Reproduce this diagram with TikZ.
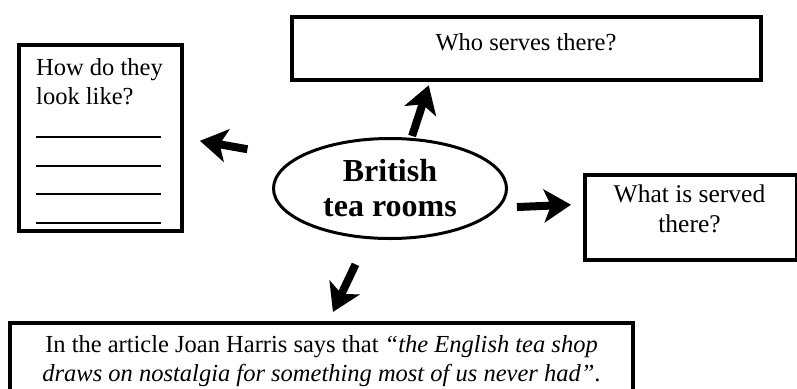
\documentclass[tikz,border=0pt]{standalone}
\usepackage{fontspec}
\setmainfont{Liberation Serif}
\usetikzlibrary{arrows.meta,shapes.geometric}
\tikzset{
    box/.style={draw,line width=4pt,inner sep=0pt},
    hand/.style={line width=8pt,-{Stealth[length=27pt,width=33pt,inset=7pt]}},
}
\begin{document}
\begin{tikzpicture}[x=1pt,y=-1pt,font=\fontsize{24.5}{29.5}\selectfont]
    \useasboundingbox (0,0) rectangle (797,388);
    \node [box,minimum width=163pt,minimum height=186pt] (look) at (100.5,138) {};
    \node [anchor=north west,inner sep=0pt,align=left] (lookText) at (36,58) {How do they\\look like?};
    \foreach \y in {137,166,194,223}
        \draw [line width=2.5pt] (36,\y) -- (161,\y);
    \node [box,minimum width=469pt,minimum height=62.5pt] (serve) at (526.5,48.25) {};
    \node [anchor=base,inner sep=0pt] (serveText) at (526,50) {Who serves there?};
    \node [box,minimum width=212pt,minimum height=85pt] (what) at (691,217.5) {};
    \node [anchor=north,inner sep=0pt,align=center,font=\fontsize{25.5}{29.5}\selectfont] (whatText) at (689.5,185) {What is served\\there?};
    \node [box,minimum width=623pt,minimum height=77pt] (quote) at (321.5,361.5) {};
    \node [anchor=north,inner sep=0pt,align=center] (quoteText) at (321.5,335)
        {In the article Joan Harris says that \textit{``the English tea shop}\\\textit{draws on nostalgia for something most of us never had''}.};
    \node [ellipse,draw,line width=3pt,minimum width=233pt,minimum height=100pt,inner sep=0pt,
        align=center,font=\bfseries\fontsize{32}{35}\selectfont] (hub) at (390,188.5) {British\\tea rooms};
    \draw [hand,shorten <=48.7pt,shorten >=16.2pt] (hub.162) -- (look.east);
    \draw [hand,shorten <=2pt,shorten >=4pt] (hub.67) -- (serve.199.5);
    \draw [hand,shorten <=17.5pt,shorten >=12pt] (hub.-10) -- (what.173);
    \draw [hand,shorten <=28pt,shorten >=10pt] (hub.-114) -- (quote.80);
\end{tikzpicture}
\end{document}
